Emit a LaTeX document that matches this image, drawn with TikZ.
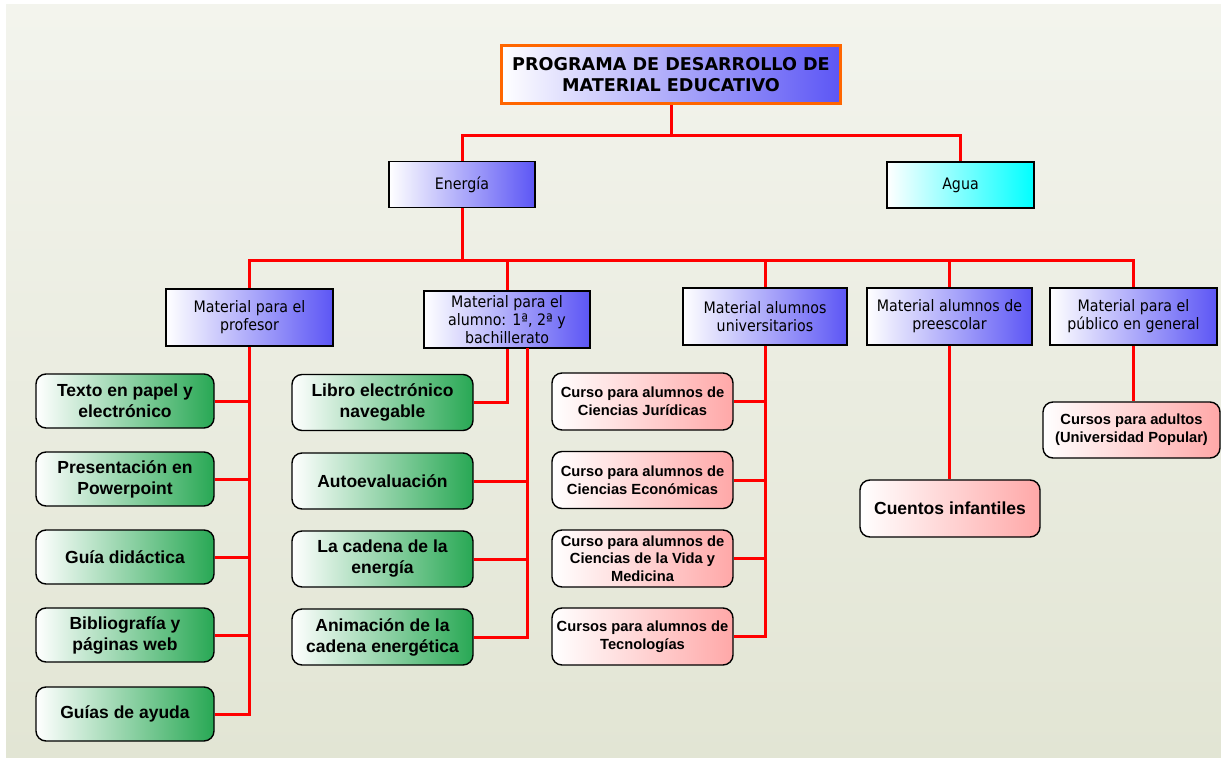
\documentclass[tikz,border=0pt]{standalone}
\usepackage{fontspec}
\setmainfont{DejaVu Sans}
\newfontfamily\arialf{Liberation Sans}
\newfontfamily\tahomaf[FakeStretch=0.9]{DejaVu Sans}
\definecolor{bgtop}{RGB}{243,244,237}
\definecolor{bgbot}{RGB}{226,229,212}
\definecolor{boxblue}{RGB}{92,86,245}
\definecolor{boxcyan}{RGB}{0,255,255}
\definecolor{boxgreen}{RGB}{40,168,84}
\definecolor{boxpink}{RGB}{255,168,168}
\definecolor{titleorange}{RGB}{255,102,0}
\begin{document}
\begin{tikzpicture}[x=1pt,y=-1pt,
  conn/.style={red, line width=3pt},
  basebox/.style={draw=black, line width=1.4pt, align=center, inner sep=1pt, left color=white},
  bluebox/.style={basebox, right color=boxblue, font=\tahomaf\fontsize{15.8}{18}\selectfont},
  cyanbox/.style={basebox, right color=boxcyan, font=\tahomaf\fontsize{15.8}{18}\selectfont},
  greenbox/.style={basebox, rounded corners=10pt, right color=boxgreen, font=\arialf\bfseries\fontsize{17.5}{21}\selectfont, minimum width=178pt, minimum height=54pt},
  pinkbox/.style={basebox, rounded corners=10pt, right color=boxpink, font=\arialf\bfseries\fontsize{14.7}{17.7}\selectfont, minimum width=181pt, minimum height=57pt},
  titlebox/.style={draw=titleorange, line width=3.5pt, left color=white, right color=boxblue, align=center, font=\bfseries\fontsize{17.6}{21.5}\selectfont}
]
\useasboundingbox (0,0) rectangle (1221,760);
\fill[white] (0,0) rectangle (1221,760);
\shade[top color=bgtop, bottom color=bgbot] (6,5) rectangle (1221,757);

% title
\node[titlebox, minimum width=339pt, minimum height=58pt] (title) at (671,74.5) {PROGRAMA DE DESARROLLO DE\\MATERIAL EDUCATIVO};

% level 1
\node[bluebox, minimum width=146pt, minimum height=46pt] (energia) at (462,184.5) {Energía};
\node[cyanbox, minimum width=147pt, minimum height=46pt] (agua) at (960.5,185) {Agua};

% level 2
\node[bluebox, minimum width=167pt, minimum height=57pt] (prof) at (249.5,317.5) {Material para el\\profesor};
\node[bluebox, minimum width=166pt, minimum height=57pt] (alum) at (507,319.5) {Material para el\\alumno: 1ª, 2ª y\\bachillerato};
\node[bluebox, minimum width=164pt, minimum height=57pt] (univ) at (765,316.5) {Material alumnos\\universitarios};
\node[bluebox, minimum width=165pt, minimum height=57pt] (pree) at (949.5,316.5) {Material alumnos de\\preescolar};
\node[bluebox, minimum width=167pt, minimum height=57pt] (pub) at (1133.5,316.5) {Material para el\\público en general};

% profesor children
\node[greenbox] (p1) at (125,401) {Texto en papel y\\electrónico};
\node[greenbox] (p2) at (125,479) {Presentación en\\Powerpoint};
\node[greenbox] (p3) at (125,557) {Guía didáctica};
\node[greenbox] (p4) at (125,635) {Bibliografía y\\páginas web};
\node[greenbox] (p5) at (125,714) {Guías de ayuda};

% alumno children
\node[greenbox, minimum width=181pt, minimum height=56pt] (a1) at (382.5,402.5) {Libro electrónico\\navegable};
\node[greenbox, minimum width=181pt, minimum height=56pt] (a2) at (382.5,481) {Autoevaluación};
\node[greenbox, minimum width=181pt, minimum height=56pt] (a3) at (382.5,559) {La cadena de la\\energía};
\node[greenbox, minimum width=181pt, minimum height=56pt] (a4) at (382.5,637) {Animación de la\\cadena energética};

% universitarios children
\node[pinkbox] (u1) at (642.5,401.5) {Curso para alumnos de\\Ciencias Jurídicas};
\node[pinkbox] (u2) at (642.5,480) {Curso para alumnos de\\Ciencias Económicas};
\node[pinkbox] (u3) at (642.5,558.5) {Curso para alumnos de\\Ciencias de la Vida y\\Medicina};
\node[pinkbox] (u4) at (642.5,636.5) {Cursos para alumnos de\\Tecnologías};

% preescolar / publico children
\node[pinkbox, minimum width=180pt, font=\arialf\bfseries\fontsize{17.5}{21}\selectfont] (cuentos) at (950,508.5) {Cuentos infantiles};
\node[pinkbox, minimum width=177pt, minimum height=56pt] (adultos) at (1131.5,430) {Cursos para adultos\\(Universidad Popular)};

% connectors
\coordinate (j1) at (671,135);
\coordinate (j2) at (462,260);
\coordinate (abus) at (527,348);
\draw[conn] (title.south) -- (j1);
\draw[conn] (j1) -| (energia.north);
\draw[conn] (j1) -| (agua.north);
\draw[conn] (energia.south) -- (j2);
\draw[conn] (j2) -| (prof.north);
\draw[conn] (j2) -| (alum.north);
\draw[conn] (j2) -| (univ.north);
\draw[conn] (j2) -| (pree.north);
\draw[conn] (j2) -| (pub.north);

\draw[conn] (prof.south) |- (p5.east);
\foreach \n in {p1,p2,p3,p4} \draw[conn] (\n.east) -- (\n.east -| prof.south);

\draw[conn] (alum.south) |- (a1.east);
\draw[conn] (abus) |- (a4.east);
\foreach \n in {a2,a3} \draw[conn] (\n.east) -- (\n.east -| abus);

\draw[conn] (univ.south) |- (u4.east);
\foreach \n in {u1,u2,u3} \draw[conn] (\n.east) -- (\n.east -| univ.south);

\draw[conn] (pree.south) -- (pree.south |- cuentos.north);
\draw[conn] (pub.south) -- (pub.south |- adultos.north);
\end{tikzpicture}
\end{document}
